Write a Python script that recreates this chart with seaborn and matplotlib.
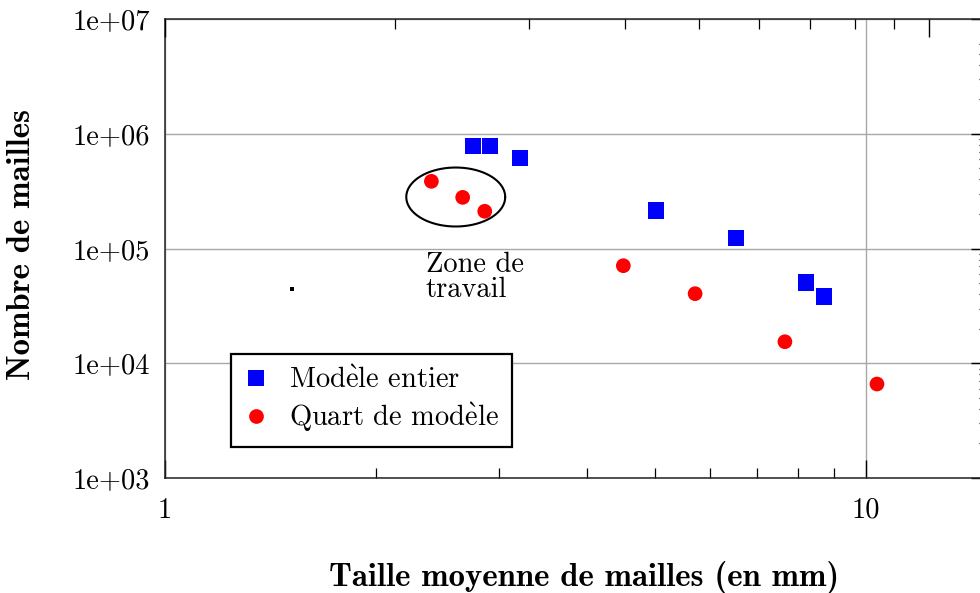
import numpy as np
import pandas as pd
import matplotlib
matplotlib.use("Agg")
import matplotlib.pyplot as plt
from matplotlib.lines import Line2D
from matplotlib.ticker import FixedLocator, NullFormatter
import seaborn as sns

# Mean mesh size (mm) against number of cells, for the two meshing strategies
entier_taille = [2.75, 2.91, 3.21, 5.02, 6.53, 8.22, 8.72]
entier_mailles = [7.8e5, 7.8e5, 6.15e5, 2.15e5, 1.23e5, 5.08e4, 3.83e4]
quart_taille = [2.40, 2.66, 2.86, 4.51, 5.71, 7.67, 10.38]
quart_mailles = [3.85e5, 2.79e5, 2.11e5, 7.08e4, 4.04e4, 1.54e4, 6.59e3]
series_labels = ["Modèle entier", "Quart de modèle"]
# Same labels typeset with a Computer Modern grave accent
series_labels_tex = [r"Mod$\grave{\mathrm{e}}$le entier", r"Quart de mod$\grave{\mathrm{e}}$le"]

# Isolated marker left of the working zone
point_taille = [1.52]
point_mailles = [4.45e4]

x_ticks = [1, 10]
x_tick_labels = ["1", "10"]
y_ticks = [1e3, 1e4, 1e5, 1e6, 1e7]
y_tick_labels = ["1e+03", "1e+04", "1e+05", "1e+06", "1e+07"]

zone_lines = ["Zone de", "travail"]

sns.set_style("white")
plt.rcParams["font.family"] = ["cmr10", "DejaVu Serif"]
plt.rcParams["mathtext.fontset"] = "cm"
plt.rcParams["axes.unicode_minus"] = False
plt.rcParams["axes.formatter.use_mathtext"] = True
for key in ("text.color", "axes.labelcolor", "xtick.color", "ytick.color"):
    plt.rcParams[key] = "black"

FS = 20.5
BLUE = "#0000ff"
RED = "#ff0000"

df = pd.DataFrame({
    "taille": entier_taille + quart_taille,
    "mailles": entier_mailles + quart_mailles,
    "serie": [series_labels[0]] * len(entier_taille) + [series_labels[1]] * len(quart_taille),
})

fig = plt.figure(figsize=(9.8, 5.93), dpi=100)
ax = fig.add_axes([165 / 980, 115 / 593, 824 / 980, 459 / 593])

sns.scatterplot(
    data=df, x="taille", y="mailles", hue="serie", style="serie", size="serie",
    palette={series_labels[0]: BLUE, series_labels[1]: RED},
    markers={series_labels[0]: "s", series_labels[1]: "o"},
    sizes={series_labels[0]: 142, series_labels[1]: 112},
    linewidth=0, legend=False, ax=ax, zorder=3,
)
ax.scatter(point_taille, point_mailles, marker="s", s=6, color="black", linewidth=0, zorder=3)
ax.set_xlabel("")
ax.set_ylabel("")

ax.set_xscale("log")
ax.set_yscale("log")
ax.set_xlim(1, 15)
ax.set_ylim(1e3, 1e7)

# Working zone: ellipse in log-log space around the refined quarter-model meshes
cx, cy = np.log10(2.60), np.log10(2.81e5)
ax_half, ay_half = 0.0706, 0.257
t = np.linspace(0, 2 * np.pi, 300)
ax.plot(10 ** (cx + ax_half * np.cos(t)), 10 ** (cy + ay_half * np.sin(t)),
        color="black", lw=1.5, zorder=4)
ax.text(2.357, 6.24e4, zone_lines[0], fontsize=FS, ha="left", va="baseline")
ax.text(2.357, 3.78e4, zone_lines[1], fontsize=FS, ha="left", va="baseline")

# Ticks
ax.set_xticks(x_ticks, labels=x_tick_labels)
ax.set_yticks(y_ticks, labels=y_tick_labels)
y_minor = [k * 10.0 ** d for d in range(3, 6) for k in range(2, 10)] + [k * 1e6 for k in range(2, 7)]
ax.yaxis.set_minor_locator(FixedLocator(y_minor))
ax.xaxis.set_minor_locator(FixedLocator([k for k in range(2, 10)]))
ax.xaxis.set_minor_formatter(NullFormatter())
ax.yaxis.set_minor_formatter(NullFormatter())
ax.tick_params(which="both", direction="in", top=False, right=True, colors="black")
ax.tick_params(which="major", length=13, width=1.0, labelsize=FS)
ax.tick_params(axis="x", which="major", pad=14)
ax.tick_params(axis="y", which="major", pad=11)
ax.tick_params(which="minor", length=7.2, width=0.9)

ax.grid(True, which="major", color="#a8a8a8", lw=1.0)
ax.set_axisbelow(True)
for s in ax.spines.values():
    s.set_color("#222222")
    s.set_linewidth(1.1)

# Top axis with its own logarithmic scale
ax2 = ax.twiny()
ax2.set_xscale("log")
ax2.set_xlim(1, 12)
ax2.xaxis.set_major_locator(FixedLocator([1, 10]))
ax2.xaxis.set_minor_locator(FixedLocator([k for k in range(2, 10)]))
ax2.xaxis.set_major_formatter(NullFormatter())
ax2.xaxis.set_minor_formatter(NullFormatter())
ax2.tick_params(which="both", direction="in", top=True, bottom=False, labeltop=False, colors="black")
ax2.tick_params(which="major", length=13, width=1.0)
ax2.tick_params(which="minor", length=7.2, width=0.9)
ax2.grid(False)
for s in ax2.spines.values():
    s.set_visible(False)

# Legend
handles = [
    Line2D([], [], marker="s", color=BLUE, linestyle="none", markersize=11.9, markeredgewidth=0),
    Line2D([], [], marker="o", color=RED, linestyle="none", markersize=10.6, markeredgewidth=0),
]
leg = ax.legend(handles, series_labels_tex, loc="lower left", bbox_to_anchor=(0.0801, 0.0675),
                borderaxespad=0, frameon=True, fancybox=False, framealpha=1,
                edgecolor="black", fontsize=FS, borderpad=0.45, handletextpad=0.75,
                handlelength=0.85, labelspacing=0.25)
leg.get_frame().set_linewidth(1.6)

# Axis titles
fig.text(584 / 980, 1 - 578 / 593, "Taille moyenne de mailles (en mm)", family="cmb10",
         fontsize=23.6, ha="center", va="center")
fig.text(22 / 980, 1 - 244 / 593, "Nombre de mailles", family="cmb10",
         fontsize=23.6, ha="center", va="center", rotation=90)

fig.savefig("out.png", dpi=100)
